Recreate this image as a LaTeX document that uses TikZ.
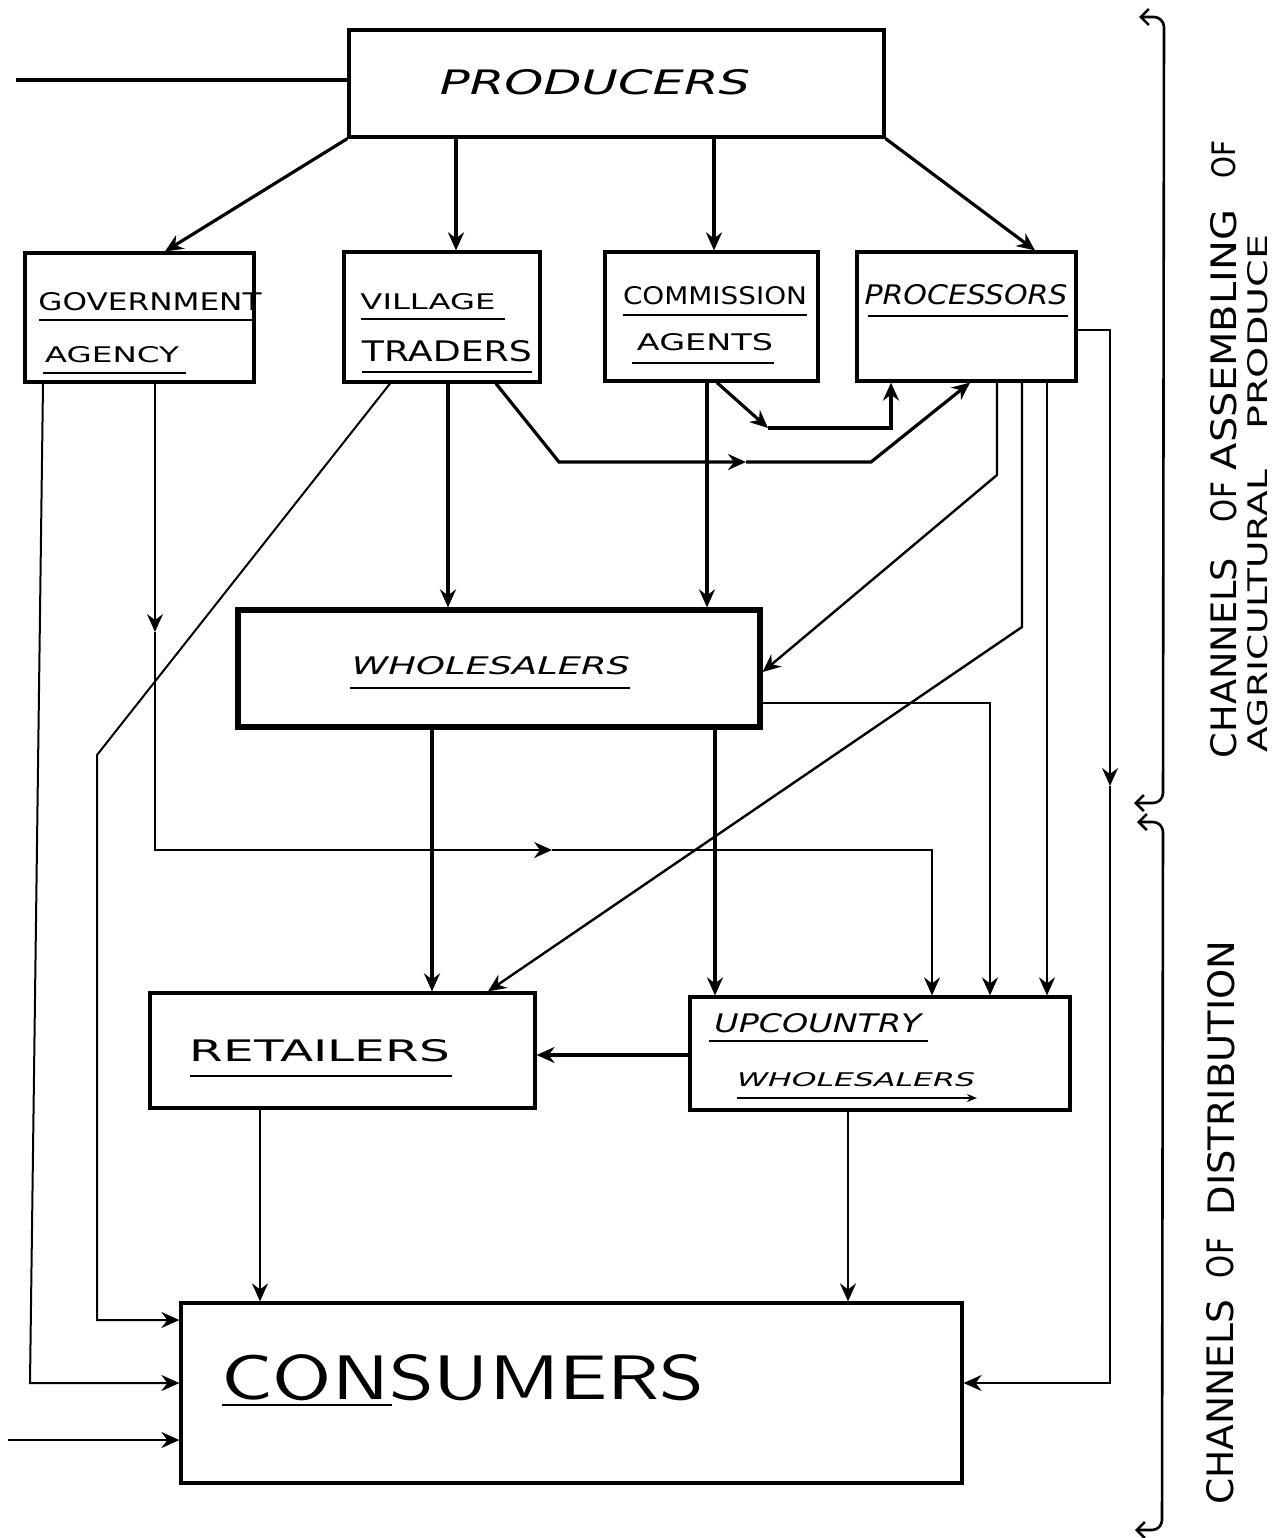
\documentclass[tikz,border=0pt]{standalone}
\usepackage{fontspec}
\usepackage{graphicx}
\newfontfamily\dv{DejaVu Sans}
\usetikzlibrary{arrows.meta,fit}
\newdimen\upx \upx=0.5pt
\newcommand{\wrd}[3]{\resizebox{#1\upx}{#2\upx}{\dv #3}}
\newcommand{\lwrd}[3]{\resizebox{#1\upx}{#2\upx}{\sffamily #3}}
\tikzset{
  box/.style={draw, line width=1.6pt, inner sep=0pt},
  thk/.style={line width=1.6pt},
  med/.style={line width=1.2pt},
  thn/.style={line width=1pt},
  ul/.style={line width=1.3pt},
  arr/.style={-{Stealth[length=9pt,width=8pt,inset=3pt]}},
  lbl/.style={inner sep=0pt, anchor=center},
  brk/.style={line width=1.3pt, {Straight Barb[length=4pt,width=8pt]}-{Straight Barb[length=4pt,width=8pt]}, rounded corners=5pt}
}
\begin{document}
\begin{tikzpicture}[x=0.5pt,y=-0.5pt]
\fill[white] (0,0) rectangle (1274,1538);
\useasboundingbox (0,0) rectangle (1274,1538);

% boxes
\node[box, fit={(349,30) (884,137)}] (prod) {};
\node[box, fit={(25,253) (254,382)}] (gov) {};
\node[box, fit={(344,252) (540,382)}] (vil) {};
\node[box, fit={(605,252) (818,381)}] (com) {};
\node[box, fit={(857,252) (1076,381)}] (proc) {};
\node[box, line width=2.6pt, fit={(238,610) (760,727)}] (whole) {};
\node[box, fit={(150,993) (535,1108)}] (ret) {};
\node[box, fit={(690,997) (1070,1110)}] (up) {};
\node[box, fit={(181,1303) (962,1483)}] (cons) {};

% texts
\node[lbl] (prodT) at (595,82) {\wrd{310}{25}{\itshape PRODUCERS}};
\node[lbl] (govT1) at (150,302) {\wrd{223}{18}{GOVERNMENT}};
\node[lbl] (govT2) at (112,355) {\wrd{134}{16}{AGENCY}};
\node[lbl] (vilT1) at (428,302) {\wrd{135}{16}{VILLAGE}};
\node[lbl] (vilT2) at (447,351) {\wrd{170}{21}{TRADERS}};
\node[lbl] (comT1) at (715,296) {\wrd{184}{18}{COMMISSION}};
\node[lbl] (comT2) at (705,342) {\wrd{136}{17}{AGENTS}};
\node[lbl] (procT) at (966,295) {\wrd{203}{20}{\itshape PROCESSORS}};
\node[lbl] (wholeT) at (491,666) {\wrd{278}{18}{\itshape WHOLESALERS}};
\node[lbl] (retT) at (320,1051) {\wrd{260}{22}{RETAILERS}};
\node[lbl] (upT1) at (818,1023) {\wrd{207}{19}{\itshape UPCOUNTRY}};
\node[lbl] (upT2) at (856,1080) {\wrd{238}{14}{\itshape WHOLESALERS}};
\node[lbl] (consT) at (463,1378) {\lwrd{483}{45}{CONSUMERS}};

% underlines
\draw[ul] (39,320) -- (255,320);
\draw[ul] (43,373) -- (186,373);
\draw[ul] (361,319) -- (505,319);
\draw[ul] (362,372) -- (532,372);
\draw[ul] (623,315) -- (807,315);
\draw[ul] (632,363) -- (774,363);
\draw[ul] (868,316) -- (1068,316);
\draw[ul] (350,688) -- (630,688);
\draw[ul] (190,1076) -- (452,1076);
\draw[ul] (709,1041) -- (928,1041);
\draw[ul, -{Stealth[length=5pt,width=4pt]}] (737,1098) -- (977,1098);
\draw[ul] (222,1405) -- (392,1405);

% side texts
\node[lbl, rotate=90] (s1) at (1224,658) {\wrd{200}{26}{CHANNELS}};
\node[lbl, rotate=90] (s2) at (1224,502) {\wrd{40}{26}{OF}};
\node[lbl, rotate=90] (s3) at (1224,340) {\wrd{260}{26}{ASSEMBLING}};
\node[lbl, rotate=90] (s4) at (1224,159) {\wrd{38}{24}{OF}};
\node[lbl, rotate=90] (s5) at (1258,611) {\wrd{282}{20}{AGRICULTURAL}};
\node[lbl, rotate=90] (s6) at (1258,332) {\wrd{195}{20}{PRODUCE}};
\node[lbl, rotate=90] (s7) at (1220,1402) {\wrd{205}{27}{CHANNELS}};
\node[lbl, rotate=90] (s8) at (1220,1258) {\wrd{40}{27}{OF}};
\node[lbl, rotate=90] (s9) at (1221,1078) {\wrd{275}{27}{DISTRIBUTION}};

% brackets
\coordinate (b1) at (1139,17);
\coordinate (b2) at (1134,803);
\coordinate (b3) at (1137,822);
\coordinate (b4) at (1135,1530);
\draw[brk] (b1) -- (1164,17) -- (1163,803) -- (b2);
\draw[brk] (b3) -- (1163,822) -- (1162,1530) -- (b4);

% connectors from producers
\coordinate (inL) at (16,80);
\draw[thk] (inL) -- (inL -| prod.west);
\draw[thk,arr] (prod.south west) -- (gov.north -| 165,0);
\draw[thk,arr] (prod.south -| 456,0) -- (vil.north -| 456,0);
\draw[thk,arr] (prod.south -| 714,0) -- (com.north -| 714,0);
\draw[thk,arr] (prod.south east) -- (proc.north -| 1035,0);

% government agency
\draw[thn,arr] (gov.south -| 43,0) -- (30,1383) -- (cons.west |- 0,1383);
\coordinate (g1) at (155,632);
\coordinate (g2) at (552,850);
\draw[thn,arr] (gov.south -| 155,0) -- (g1);
\draw[thn,arr] (g1) -- (155,850) -- (g2);
\draw[thn,arr] (g2) -- (932,850) -- (up.north -| 932,0);

% village traders
\draw[thn,arr] (vil.south -| 390,0) -- (97,755) -- (97,1320) -- (cons.west |- 0,1320);
\draw[thk,arr] (vil.south -| 448,0) -- (whole.north -| 448,0);
\coordinate (v1) at (746,462);
\draw[thk,arr] (vil.south -| 496,0) -- (559,462) -- (v1);
\draw[thk,arr] (v1) -- (871,462) -- (proc.south -| 970,0);

% commission agents
\draw[thk,arr] (com.south -| 707,0) -- (whole.north -| 707,0);
\coordinate (c1) at (768,428);
\draw[thk,arr] (com.south -| 717,0) -- (c1);
\draw[thk,arr] (c1) -- (891,428) -- (proc.south -| 891,0);

% processors
\draw[med,arr] (proc.south -| 997,0) -- (997,475) -- (whole.east |- 0,672);
\draw[med,arr] (proc.south -| 1022,0) -- (1022,627) -- (ret.north -| 488,0);
\draw[med,arr] (proc.south -| 1047,0) -- (up.north -| 1047,0);
\coordinate (p1) at (1110,786);
\draw[med,arr] (proc.east |- 0,330) -- (1110,330) -- (p1);
\draw[med,arr] (p1) -- (1110,1383) -- (cons.east |- 0,1383);

% wholesalers
\draw[med,arr] (whole.east |- 0,703) -- (990,703) -- (up.north -| 990,0);
\draw[thk,arr] (whole.south -| 432,0) -- (ret.north -| 432,0);
\draw[thk,arr] (whole.south -| 715,0) -- (up.north -| 715,0);

% retail level
\draw[thk,arr] (up.west |- 0,1055) -- (ret.east |- 0,1055);
\draw[thn,arr] (ret.south -| 260,0) -- (cons.north -| 260,0);
\draw[thn,arr] (up.south -| 848,0) -- (cons.north -| 848,0);
\coordinate (inC) at (8,1440);
\draw[thn,arr] (inC) -- (inC -| cons.west);
\end{tikzpicture}
\end{document}
